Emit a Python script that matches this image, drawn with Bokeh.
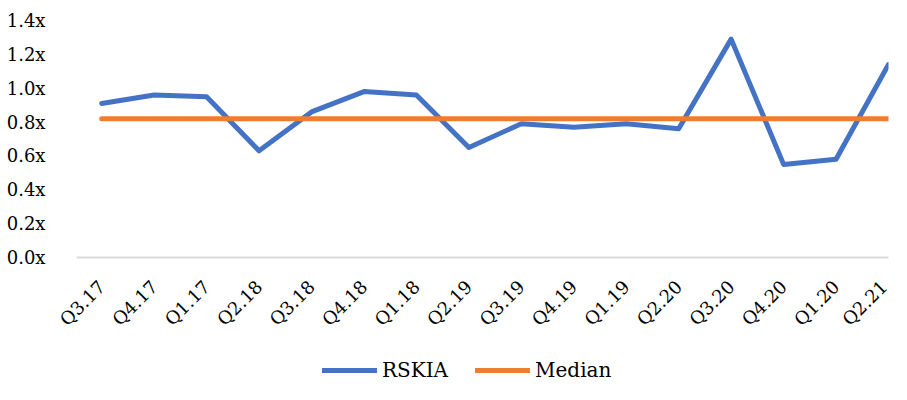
from bokeh.plotting import figure
from bokeh.models import FixedTicker, PrintfTickFormatter, Range1d, Legend, LegendItem
from bokeh.layouts import column
from bokeh.embed import file_html
from bokeh.resources import INLINE
import math

quarters = ["Q3.17", "Q4.17", "Q1.17", "Q2.18", "Q3.18", "Q4.18", "Q1.18", "Q2.19",
            "Q3.19", "Q4.19", "Q1.19", "Q2.20", "Q3.20", "Q4.20", "Q1.20", "Q2.21"]
rskia = [0.91, 0.96, 0.95, 0.63, 0.86, 0.98, 0.96, 0.65,
         0.79, 0.77, 0.79, 0.76, 1.29, 0.55, 0.58, 1.14]
median = [0.82] * len(quarters)
y_ticks = [0.0, 0.2, 0.4, 0.6, 0.8, 1.0, 1.2, 1.4]
series_names = ["RSKIA", "Median"]
series_colors = ["#4472C4", "#ED7D31"]

FONT = "DejaVu Serif"
xs = list(range(len(quarters)))

p = figure(width=891, height=340, output_backend="svg", toolbar_location=None,
           x_range=Range1d(-0.48, 15.0), y_range=Range1d(0, 1.4),
           min_border_left=76, min_border_top=20, min_border_bottom=82, min_border_right=3)
p.outline_line_color = None
p.xgrid.visible = False
p.ygrid.visible = False

p.line(xs, rskia, line_color=series_colors[0], line_width=5, line_cap="round", line_join="round")
p.line(xs, median, line_color=series_colors[1], line_width=5, line_cap="round")

p.yaxis.ticker = FixedTicker(ticks=y_ticks)
p.yaxis.formatter = PrintfTickFormatter(format="%.1fx")
p.yaxis.axis_line_color = None
p.yaxis.major_tick_line_color = None
p.yaxis.minor_tick_line_color = None
p.yaxis.major_label_text_font = FONT
p.yaxis.major_label_text_font_size = "18px"
p.yaxis.major_label_text_color = "#000000"
p.yaxis.major_label_standoff = 25

p.xaxis.ticker = FixedTicker(ticks=xs)
p.xaxis.major_label_overrides = {i: q for i, q in enumerate(quarters)}
p.xaxis.major_label_orientation = math.pi / 4
p.xaxis.axis_line_color = "#d9d9d9"
p.xaxis.axis_line_width = 2
p.xaxis.major_tick_line_color = None
p.xaxis.minor_tick_line_color = None
p.xaxis.major_label_text_font = FONT
p.xaxis.major_label_text_font_size = "18px"
p.xaxis.major_label_text_color = "#000000"
p.xaxis.major_label_standoff = 20

# legend strip below the chart (hidden copies of the series carry the legend glyphs)
lf = figure(width=891, height=44, output_backend="svg", toolbar_location=None,
            min_border=0, x_axis_location=None, y_axis_location=None)
lf.outline_line_color = None
lf.xgrid.visible = False
lf.ygrid.visible = False
lr = [lf.line(xs, ys, line_color=c, line_width=5, line_cap="round", visible=False)
      for ys, c in zip([rskia, median], series_colors)]

legend = Legend(items=[LegendItem(label=n, renderers=[r]) for n, r in zip(series_names, lr)],
                orientation="horizontal", location=(246, 2),
                label_text_font=FONT, label_text_font_size="20px",
                label_text_color="#000000", label_standoff=5,
                glyph_width=55, glyph_height=20, spacing=27,
                border_line_color=None, background_fill_alpha=0,
                inactive_fill_alpha=0, click_policy="none",
                margin=0, padding=0)
lf.add_layout(legend, "center")

open("out.html", "w").write(file_html(column(p, lf, spacing=0), INLINE))
